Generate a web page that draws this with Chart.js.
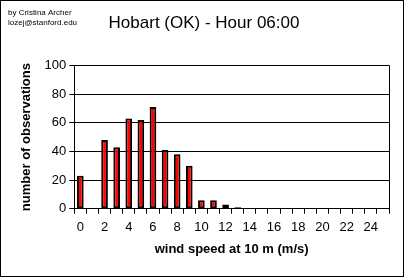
<!DOCTYPE html>
<html>
<head>
<meta charset="utf-8">
<script src="https://cdn.jsdelivr.net/npm/chart.js@4/dist/chart.umd.min.js"></script>
<style>
	body { margin: 0; background: #fff; }
	#wrap { width: 404px; height: 277px; }
</style>
</head>
<body>
<div id="wrap"><canvas id="myChart" width="404" height="277"></canvas></div>
<script>
// wind speed classes (m/s)
const windSpeeds = ['0', '1', '2', '3', '4', '5', '6', '7', '8', '9', '10', '11', '12',
	'13', '14', '15', '16', '17', '18', '19', '20', '21', '22', '23', '24', '25'];
// number of observations per class
const observations = [23, 0, 48, 43, 63, 62, 71, 41, 38, 30, 6, 6, 3, 1,
	0, 0, 0, 0, 0, 0, 0, 0, 0, 0, 0, 0];
const yTicks = [0, 20, 40, 60, 80, 100];

const chartTitle = 'Hobart (OK) - Hour 06:00';
const authorLines = ['by Cristina Archer', 'lozej@stanford.edu'];

const FONT = "'Liberation Sans', Arial, sans-serif";

const framePlugin = {
	id: 'frame',
	beforeDraw: (chart) => {
		const ctx = chart.ctx;
		ctx.save();
		ctx.fillStyle = '#fff';
		ctx.fillRect(0, 0, chart.width, chart.height);
		ctx.restore();
	},
	afterDraw: (chart) => {
		const ctx = chart.ctx;
		const area = chart.chartArea;
		ctx.save();
		ctx.strokeStyle = '#000';
		ctx.lineWidth = 1;
		// right border of the plot
		ctx.beginPath();
		ctx.moveTo(Math.round(area.right) + 0.5, area.top);
		ctx.lineTo(Math.round(area.right) + 0.5, area.bottom);
		ctx.stroke();
		// outer frame
		ctx.strokeRect(0.5, 0.5, chart.width - 1, chart.height - 1);
		// author note
		ctx.fillStyle = '#000';
		ctx.font = '8px ' + FONT;
		ctx.textBaseline = 'alphabetic';
		ctx.fillText(authorLines[0], 8, 15);
		ctx.fillText(authorLines[1], 8, 25);
		ctx.restore();
	},
};

const ctx = document.getElementById('myChart').getContext('2d');
const myChart = new Chart(ctx, {
	type: 'bar',
	data: {
		labels: windSpeeds,
		datasets: [
			{
				label: 'observations',
				data: observations,
				backgroundColor: '#ff0000',
				borderColor: '#000000',
				borderWidth: 2,
				borderSkipped: false,
				barPercentage: 0.55,
				categoryPercentage: 1,
			},
		],
	},
	options: {
		responsive: false,
		animation: false,
		layout: {
			padding: { left: 19, right: 15, top: 0, bottom: 20 },
		},
		plugins: {
			legend: { display: false },
			tooltip: { enabled: false },
			title: {
				display: true,
				text: chartTitle,
				color: '#000',
				font: { family: FONT, size: 17, weight: 'normal' },
				padding: { top: 13, bottom: 32 },
			},
		},
		scales: {
			x: {
				offset: true,
				grid: {
					offset: true,
					drawOnChartArea: false,
					drawTicks: true,
					tickLength: 5,
					color: '#000',
				},
				border: { display: true, color: '#000', width: 1 },
				ticks: {
					autoSkip: false,
					maxRotation: 0,
					padding: 6,
					color: '#000',
					font: { family: FONT, size: 13 },
					callback: (value, i) => (i % 2 === 0 ? windSpeeds[i] : ''),
				},
				title: {
					display: true,
					text: 'wind speed at 10 m (m/s)',
					color: '#000',
					font: { family: FONT, size: 13, weight: 'bold' },
					padding: { top: 0, bottom: 0 },
				},
			},
			y: {
				min: 0,
				max: 100,
				afterBuildTicks: (scale) => {
					scale.ticks = yTicks.map((v) => ({ value: v }));
				},
				grid: {
					color: '#000',
					tickLength: 5,
				},
				border: { display: true, color: '#000', width: 1 },
				ticks: {
					padding: 3,
					color: '#000',
					font: { family: FONT, size: 13 },
				},
				title: {
					display: true,
					text: 'number of observations',
					color: '#000',
					font: { family: FONT, size: 13, weight: 'bold' },
					padding: { top: 0, bottom: 7 },
				},
			},
		},
	},
	plugins: [framePlugin],
});
</script>
</body>
</html>
